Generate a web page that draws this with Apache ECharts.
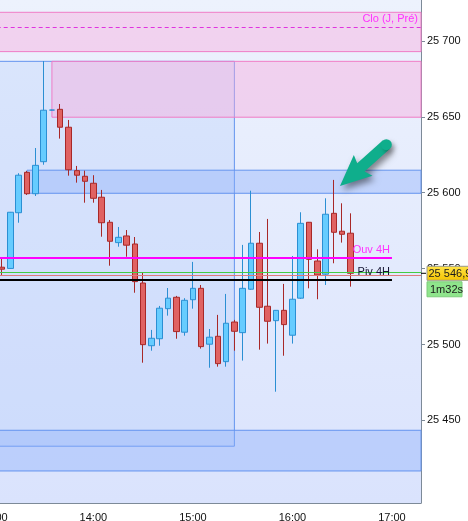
<!DOCTYPE html>
<html>
<head>
<meta charset="utf-8">
<script src="https://cdn.jsdelivr.net/npm/echarts@6/dist/echarts.min.js"></script>
<style>html,body{margin:0;padding:0;background:#fff}#c{width:468px;height:521px}</style>
</head>
<body>
<div id="c"></div>
<script>
// ---- data ----
const categories = [];
for (let m = 13 * 60; m <= 17 * 60 + 15; m += 5) {
  categories.push(String(Math.floor(m / 60)).padStart(2, '0') + ':' + String(m % 60).padStart(2, '0'));
}
const candleTimes = ['13:05','13:10','13:15','13:20','13:25','13:30','13:35','13:40','13:45','13:50','13:55',
  '14:00','14:05','14:10','14:15','14:20','14:25','14:30','14:35','14:40','14:45','14:50','14:55',
  '15:00','15:05','15:10','15:15','15:20','15:25','15:30','15:35','15:40','15:45','15:50','15:55',
  '16:00','16:05','16:10','16:15','16:20','16:25','16:30','16:35'];
const opens  = [25550.9,25550.1,25586.8,25613.4,25599.3,25620.4,25654.4,25654.9,25643.1,25614.5,25610.8,
  25606.2,25597.0,25580.5,25567.1,25571.5,25566.2,25540.5,25499.2,25503.8,25523.6,25531.1,25508.1,
  25529.5,25537.0,25500.2,25505.4,25488.7,25514.8,25507.8,25536.4,25566.7,25525.2,25515.7,25522.5,
  25506.1,25530.5,25580.5,25555.0,25546.3,25586.4,25574.6,25573.3];
const closes = [25549.6,25587.1,25611.5,25599.3,25618.0,25654.3,25654.4,25643.1,25615.1,25611.5,25607.5,
  25596.3,25580.2,25568.0,25570.6,25565.4,25541.4,25499.9,25504.1,25523.9,25530.5,25508.5,25529.1,
  25537.0,25498.6,25504.8,25487.4,25514.0,25508.7,25537.0,25566.7,25524.5,25515.3,25522.5,25513.1,
  25529.8,25579.8,25556.1,25545.8,25585.8,25573.9,25572.6,25546.9];
const lows   = [25545.8,25549.8,25580.2,25598.5,25597.8,25618.4,25654.2,25635.6,25611.2,25606.6,25593.4,
  25593.4,25571.0,25551.9,25564.4,25557.8,25534.1,25488.0,25495.9,25499.2,25519.0,25503.8,25505.8,
  25523.6,25497.3,25484.7,25485.4,25485.4,25495.9,25489.4,25536.0,25496.6,25500.6,25468.9,25492.6,
  25500.6,25530.0,25537.0,25529.8,25539.2,25553.5,25567.1,25538.1];
const highs  = [25556.3,25587.3,25612.8,25614.3,25629.4,25686.7,25654.6,25658.4,25647.9,25617.6,25614.5,
  25611.5,25601.8,25582.0,25577.4,25575.4,25570.8,25547.3,25509.6,25525.4,25537.2,25532.0,25530.5,
  25554.4,25539.2,25510.2,25519.5,25533.3,25516.2,25565.6,25601.3,25574.1,25582.7,25522.7,25539.9,
  25558.3,25587.1,25580.7,25562.7,25596.3,25608.4,25593.0,25586.4];

const yTicks = [25450, 25500, 25550, 25600, 25650, 25700];
const yMin = 25395.6, yMax = 25726.9;

// levels
const cloPrev = 25708.9;
const ouv4h = 25557.3;
const piv4h = 25542.5;
const greenLevel = 25547.6;
const redLevel = 25545.8;
const lastPrice = 25546.9;
const lastPriceText = '25 546,9';
const timerText = '1m32s';

// zones [y1, y2, xStart(or null), xEnd(or null)]
const pinkZones = [
  [25718.8, 25692.9, null, null],
  [25686.5, 25649.7, '13:35', null]
];
const bigRect = [25686.5, 25433.0, null, '15:25'];
const blueZones = [
  [25614.8, 25599.6, '13:20', null],
  [25443.5, 25416.7, null, null]
];

// ---- build ----
const candleData = categories.map(c => {
  const i = candleTimes.indexOf(c);
  return i < 0 ? ['-', '-', '-', '-'] : [opens[i], closes[i], lows[i], highs[i]];
});

function zoneItem(z, style) {
  const a = { yAxis: z[0] }, b = { yAxis: z[1] };
  if (z[2] != null) a.xAxis = z[2];
  if (z[3] != null) b.xAxis = z[3];
  return [Object.assign(a, { itemStyle: style }), b];
}
const fmt = v => String(v).replace(/\B(?=(\d{3})+(?!\d))/g, ' ');
const FONT = 'Liberation Sans, Arial, sans-serif';
const FS = 11;

const chart = echarts.init(document.getElementById('c'), null, { renderer: 'canvas' });
const pinkStyle = { color: 'rgba(248,170,220,0.43)', borderColor: '#f07cc6', borderWidth: 1 };
const blueStyle = { color: 'rgba(140,175,250,0.40)', borderColor: '#6494ee', borderWidth: 1 };
const bigStyle = { color: 'rgba(150,185,250,0.20)', borderColor: '#6494ee', borderWidth: 1 };

chart.setOption({
  animation: false,
  backgroundColor: '#ffffff',
  grid: {
    left: -10.3, right: 47, top: 0, bottom: 18, show: true, borderWidth: 0,
    outerBoundsMode: 'none', containLabel: false,
    backgroundColor: new echarts.graphic.LinearGradient(0, 0, 0, 1, [
      { offset: 0, color: '#edf2fd' }, { offset: 1, color: '#dae3fd' }])
  },
  xAxis: {
    type: 'category', data: categories, boundaryGap: true,
    axisLine: { lineStyle: { color: '#7d8a98', width: 1 } },
    axisTick: { alignWithLabel: true, length: 4, lineStyle: { color: '#7d8a98' },
      interval: (i, v) => v.endsWith(':00') },
    axisLabel: { interval: (i, v) => v.endsWith(':00'), color: '#111', fontSize: FS, fontFamily: FONT, margin: 9 },
    splitLine: { show: false }
  },
  yAxis: {
    type: 'value', position: 'right', min: yMin, max: yMax,
    axisLine: { show: true, lineStyle: { color: '#7d8a98', width: 1 } },
    axisTick: { show: true, length: 4, lineStyle: { color: '#7d8a98' }, customValues: yTicks },
    axisLabel: { color: '#111', fontSize: FS, fontFamily: FONT, margin: 6, customValues: yTicks,
      formatter: v => fmt(Math.round(v)) },
    splitLine: { show: false }
  },
  series: [{
    type: 'candlestick',
    data: candleData,
    barWidth: 6,
    itemStyle: { color: '#66ccff', color0: '#e06262', borderColor: '#2b8fd3', borderColor0: '#a82828', borderWidth: 1 },
    markArea: {
      silent: true,
      data: [zoneItem(bigRect, bigStyle)]
        .concat(pinkZones.map(z => zoneItem(z, pinkStyle)))
        .concat(blueZones.map(z => zoneItem(z, blueStyle)))
    },
    markLine: {
      silent: true, symbol: ['none', 'none'],
      data: [
        { yAxis: cloPrev, lineStyle: { color: '#e033e0', type: [4, 3], width: 1 },
          label: { show: true, position: 'insideEndTop', formatter: 'Clo (J, Pré)', color: '#ff33ff', fontSize: FS, fontFamily: FONT, distance: 3 } },
        { yAxis: greenLevel, lineStyle: { color: '#44cc44', type: 'solid', width: 1 }, label: { show: false } },
        { yAxis: redLevel, lineStyle: { color: '#e07a7a', type: 'solid', width: 1 }, label: { show: false } },
        [{ coord: ['13:00', ouv4h], lineStyle: { color: '#ff00ff', type: 'solid', width: 2 },
           label: { show: true, position: 'insideEndTop', formatter: 'Ouv 4H', color: '#ff33ff', fontSize: FS, fontFamily: FONT, distance: 2 } },
         { coord: ['17:00', ouv4h] }],
        [{ coord: ['13:00', piv4h], lineStyle: { color: '#000000', type: 'solid', width: 2 },
           label: { show: true, position: 'insideEndTop', formatter: 'Piv 4H', color: '#141432', fontSize: FS, fontFamily: FONT, distance: 2 } },
         { coord: ['17:00', piv4h] }]
      ]
    }
  }]
});

// price tag + timer + arrow annotation
const py = chart.convertToPixel({ yAxisIndex: 0 }, lastPrice);
const xl = chart.convertToPixel({ xAxisIndex: 0 }, categories[categories.length - 1]);
const xp = chart.convertToPixel({ xAxisIndex: 0 }, categories[categories.length - 2]);
const gx = xl + (xl - xp) / 2;
const T = [340, 186], dir = [-0.747, 0.666], p = [0.666, 0.747];
const pt = (base, d, k, e, m) => [base[0] + d[0] * k + e[0] * m, base[1] + d[1] * k + e[1] * m];
const S = pt(T, dir, -62, p, 0), B = pt(T, dir, -28, p, 0);
const arrowPts = [pt(S, dir, 0, p, 5.5), pt(B, dir, 0, p, 5.5), pt(B, dir, -3, p, 14), T,
  pt(B, dir, -3, p, -14), pt(B, dir, 0, p, -5.5), pt(S, dir, 0, p, -5.5)];
const arrowColor = '#0fae8c';
const shadow = { shadowBlur: 6, shadowColor: 'rgba(0,0,0,0.45)', shadowOffsetX: 3, shadowOffsetY: 4 };
chart.setOption({
  graphic: [
    { type: 'polygon', shape: { points: arrowPts }, style: Object.assign({ fill: arrowColor }, shadow), z: 100, silent: true },
    { type: 'circle', shape: { cx: S[0], cy: S[1], r: 5.5 }, style: { fill: arrowColor, shadowBlur: 4, shadowColor: 'rgba(0,0,0,0.3)', shadowOffsetX: 3, shadowOffsetY: 3 }, z: 100, silent: true },
    { type: 'line', shape: { x1: gx, y1: py, x2: gx + 5, y2: py }, style: { stroke: '#000', lineWidth: 1 }, z: 100, silent: true },
    { type: 'rect', shape: { x: gx + 6, y: py - 7, width: 50, height: 14 },
      style: { fill: new echarts.graphic.LinearGradient(0, 0, 0, 1, [{ offset: 0, color: '#ffe34a' }, { offset: 1, color: '#f5c400' }]), stroke: '#9a9a8a', lineWidth: 1 }, z: 100, silent: true },
    { type: 'text', x: gx + 7.5, y: py + 0.5, style: { text: lastPriceText, fill: '#1a1a1a', font: '11px ' + FONT, verticalAlign: 'middle' }, z: 101, silent: true },
    { type: 'rect', shape: { x: gx + 6, y: py + 8.5, width: 35, height: 15 },
      style: { fill: '#8fe58c', stroke: '#7ccc7a', lineWidth: 1 }, z: 100, silent: true },
    { type: 'text', x: gx + 9, y: py + 16.5, style: { text: timerText, fill: '#1a1a1a', font: '11px ' + FONT, verticalAlign: 'middle' }, z: 101, silent: true }
  ]
});
</script>
</body>
</html>
